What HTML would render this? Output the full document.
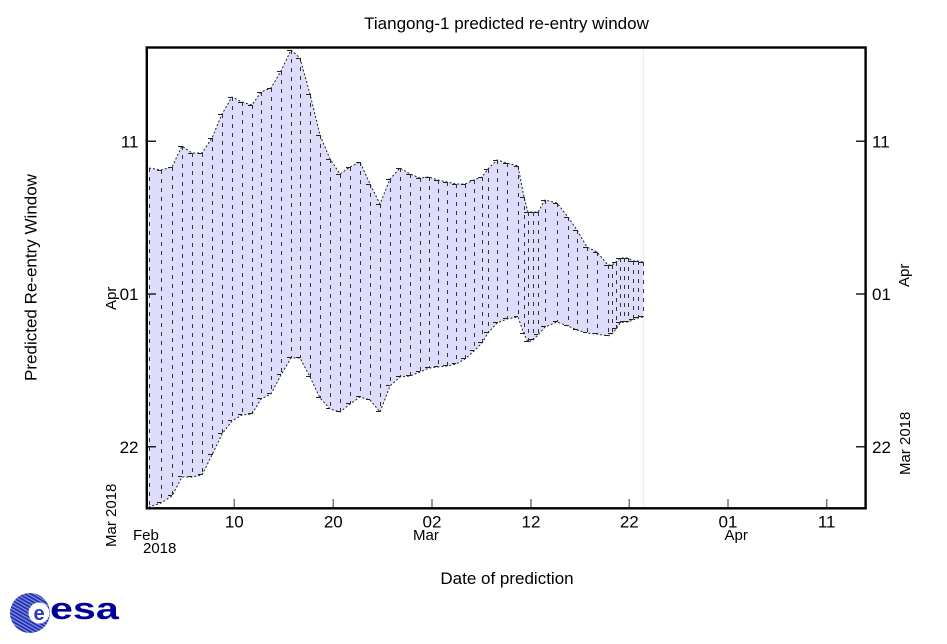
<!DOCTYPE html>
<html><head><meta charset="utf-8"><style>
html,body{margin:0;padding:0;background:#fff;}
svg{display:block;}
text{font-family:"Liberation Sans",Arial,sans-serif;fill:#000;}
</style></head><body>
<svg width="947" height="644" viewBox="0 0 947 644" xmlns="http://www.w3.org/2000/svg">
<rect width="947" height="644" fill="#fff"/>
<text x="506.5" y="29" font-size="17" text-anchor="middle">Tiangong-1 predicted re-entry window</text>

<!-- faint vertical line -->
<line x1="643.5" y1="48" x2="643.5" y2="507" stroke="#ececf4" stroke-width="1"/>

<!-- envelope fill -->
<polygon fill="#dddcfa" points="149,168 161,170 172,167 182,146 192,153 202,153 212,138 222,114 232,97 242,102 252,105 261,92 271,88 281,71 291,50 300,58 310,94 320,135 330,159 340,174 350,167 360,162 370,184 380,204 390,179 400,168 410,174 420,178 429,177 438,180 447,182 456,184 465,184 474,180 482,177 488,169 497,160 507,163 518,166 524,197 528,212 533,212 538,212 545,200 557,203 568,217 577,230 587,247 597,252 608,265 612,265 616,262 620,258 624,258 628,258 633,261 638,261 643,262 643,317 638,318 633,320 628,322 624,322 620,323 616,329 612,334 608,336 597,334 587,333 577,330 568,326 557,322 545,327 538,335 533,340 528,342 524,334 518,317 507,319 497,323 488,333 482,343 474,351 465,359 456,364 447,366 438,367 429,368 420,372 410,376 400,377 390,386 380,412 370,400 360,397 350,404 340,412 330,409 320,398 310,377 300,358 291,358 281,375 271,394 261,399 252,414 242,415 232,421 222,434 212,455 202,475 192,477 182,477 172,496 161,503 149,507"/>

<!-- vertical dashed lines -->
<path fill="none" stroke="#333" stroke-width="1" stroke-dasharray="4,5" d="M149.5 168V507 M161.5 170V503 M172.5 167V496 M182.5 146V477 M192.5 153V477 M202.5 153V475 M212.5 138V455 M222.5 114V434 M232.5 97V421 M242.5 102V415 M252.5 105V414 M261.5 92V399 M271.5 88V394 M281.5 71V375 M291.5 50V358 M300.5 58V358 M310.5 94V377 M320.5 135V398 M330.5 159V409 M340.5 174V412 M350.5 167V404 M360.5 162V397 M370.5 184V400 M380.5 204V412 M390.5 179V386 M400.5 168V377 M410.5 174V376 M420.5 178V372 M429.5 177V368 M438.5 180V367 M447.5 182V366 M456.5 184V364 M465.5 184V359 M474.5 180V351 M482.5 177V343 M488.5 169V333 M497.5 160V323 M507.5 163V319 M518.5 166V317 M524.5 197V334 M528.5 212V342 M533.5 212V340 M538.5 212V335 M545.5 200V327 M557.5 203V322 M568.5 217V326 M577.5 230V330 M587.5 247V333 M597.5 252V334 M608.5 265V336 M612.5 265V334 M616.5 262V329 M620.5 258V323 M624.5 258V322 M628.5 258V322 M633.5 261V320 M638.5 261V318 M643.5 262V317"/>

<!-- end ticks -->
<path fill="none" stroke="#222" stroke-width="1" d="M157 170.5h4M157 502.5h4M168 167.5h4M168 495.5h4M178 146.5h4M178 476.5h4M188 153.5h4M188 476.5h4M198 153.5h4M198 474.5h4M208 138.5h4M208 454.5h4M218 114.5h4M218 433.5h4M228 97.5h4M228 420.5h4M238 102.5h4M238 414.5h4M248 105.5h4M248 413.5h4M257 92.5h4M257 398.5h4M267 88.5h4M267 393.5h4M277 71.5h4M277 374.5h4M287 50.5h4M287 357.5h4M296 58.5h4M296 357.5h4M306 94.5h4M306 376.5h4M316 135.5h4M316 397.5h4M326 159.5h4M326 408.5h4M336 174.5h4M336 411.5h4M346 167.5h4M346 403.5h4M356 162.5h4M356 396.5h4M366 184.5h4M366 399.5h4M376 204.5h4M376 411.5h4M386 179.5h4M386 385.5h4M396 168.5h4M396 376.5h4M406 174.5h4M406 375.5h4M416 178.5h4M416 371.5h4M425 177.5h4M425 367.5h4M434 180.5h4M434 366.5h4M443 182.5h4M443 365.5h4M452 184.5h4M452 363.5h4M461 184.5h4M461 358.5h4M470 180.5h4M470 350.5h4M478 177.5h4M478 342.5h4M484 169.5h4M484 332.5h4M493 160.5h4M493 322.5h4M503 163.5h4M503 318.5h4M514 166.5h4M514 316.5h4M520 197.5h4M520 333.5h4M524 212.5h4M524 341.5h4M529 212.5h4M529 339.5h4M534 212.5h4M534 334.5h4M541 200.5h4M541 326.5h4M553 203.5h4M553 321.5h4M564 217.5h4M564 325.5h4M573 230.5h4M573 329.5h4M583 247.5h4M583 332.5h4M593 252.5h4M593 333.5h4M604 265.5h4M604 335.5h4M608 265.5h4M608 333.5h4M612 262.5h4M612 328.5h4M616 258.5h4M616 322.5h4M620 258.5h4M620 321.5h4M624 258.5h4M624 321.5h4M629 261.5h4M629 319.5h4M634 261.5h4M634 317.5h4M639 262.5h4M639 316.5h4"/>

<!-- envelope dotted outlines -->
<polyline fill="none" stroke="#222" stroke-width="1" stroke-dasharray="2,2" points="149,168 161,170 172,167 182,146 192,153 202,153 212,138 222,114 232,97 242,102 252,105 261,92 271,88 281,71 291,50 300,58 310,94 320,135 330,159 340,174 350,167 360,162 370,184 380,204 390,179 400,168 410,174 420,178 429,177 438,180 447,182 456,184 465,184 474,180 482,177 488,169 497,160 507,163 518,166 524,197 528,212 533,212 538,212 545,200 557,203 568,217 577,230 587,247 597,252 608,265 612,265 616,262 620,258 624,258 628,258 633,261 638,261 643,262"/>
<polyline fill="none" stroke="#222" stroke-width="1" stroke-dasharray="2,2" points="643,317 638,318 633,320 628,322 624,322 620,323 616,329 612,334 608,336 597,334 587,333 577,330 568,326 557,322 545,327 538,335 533,340 528,342 524,334 518,317 507,319 497,323 488,333 482,343 474,351 465,359 456,364 447,366 438,367 429,368 420,372 410,376 400,377 390,386 380,412 370,400 360,397 350,404 340,412 330,409 320,398 310,377 300,358 291,358 281,375 271,394 261,399 252,414 242,415 232,421 222,434 212,455 202,475 192,477 182,477 172,496 161,503 149,507"/>

<!-- x ticks -->
<path stroke="#777" stroke-width="1.5" fill="none" d="M234.3 499V508M333.3 499V508M432 499V508M531 499V508M629.3 499V508M728 499V508M826.7 499V508"/>
<!-- y ticks -->
<path stroke="#222" stroke-width="1.5" fill="none" d="M147 141.3H156M147 294H156M147 446.7H156M856 141.3H865M856 294H865M856 446.7H865"/>

<!-- frame -->
<rect x="146.8" y="47.5" width="718.8" height="460.8" fill="none" stroke="#000" stroke-width="2.4"/>

<!-- x tick labels -->
<g font-size="17" text-anchor="middle">
<text x="234.3" y="527.5">10</text>
<text x="333.3" y="527.5">20</text>
<text x="432" y="527.5">02</text>
<text x="531" y="527.5">12</text>
<text x="629.3" y="527.5">22</text>
<text x="728" y="527.5">01</text>
<text x="826.7" y="527.5">11</text>
</g>
<g font-size="15">
<text x="133" y="540">Feb</text>
<text x="143" y="553">2018</text>
<text x="413" y="540">Mar</text>
<text x="724.5" y="540">Apr</text>
</g>

<!-- y tick labels left -->
<g font-size="17" text-anchor="end">
<text x="138.5" y="147.5">11</text>
<text x="138.5" y="300.2">01</text>
<text x="138.5" y="452.9">22</text>
</g>
<!-- y tick labels right -->
<g font-size="17">
<text x="872" y="147.5">11</text>
<text x="872" y="300.2">01</text>
<text x="872" y="452.9">22</text>
</g>
<g font-size="15">
<text transform="translate(116,547) rotate(-90)">Mar 2018</text>
<text transform="translate(116,310) rotate(-90)">Apr</text>
<text transform="translate(910,475) rotate(-90)">Mar 2018</text>
<text transform="translate(909,287) rotate(-90)">Apr</text>
</g>

<text font-size="17" text-anchor="middle" transform="translate(36.5,277.5) rotate(-90)">Predicted Re-entry Window</text>
<text x="507" y="584" font-size="17" text-anchor="middle">Date of prediction</text>

<!-- ESA logo -->
<defs>
<pattern id="ht" width="3" height="3" patternUnits="userSpaceOnUse" patternTransform="rotate(30)">
<rect width="3" height="3" fill="#8a94e0"/>
<rect width="3" height="1.8" fill="#1f2fb4"/>
</pattern>
</defs>
<circle cx="30" cy="613" r="20" fill="url(#ht)"/>
<circle cx="39" cy="613" r="10.5" fill="#fff"/>
<text x="39" y="620" font-size="20" font-weight="bold" text-anchor="middle" style="fill:#2a3ab8">e</text>
<text transform="translate(50,619) scale(1.33,1)" font-size="31" font-weight="bold" style="fill:#000096">esa</text>
</svg>
</body></html>
